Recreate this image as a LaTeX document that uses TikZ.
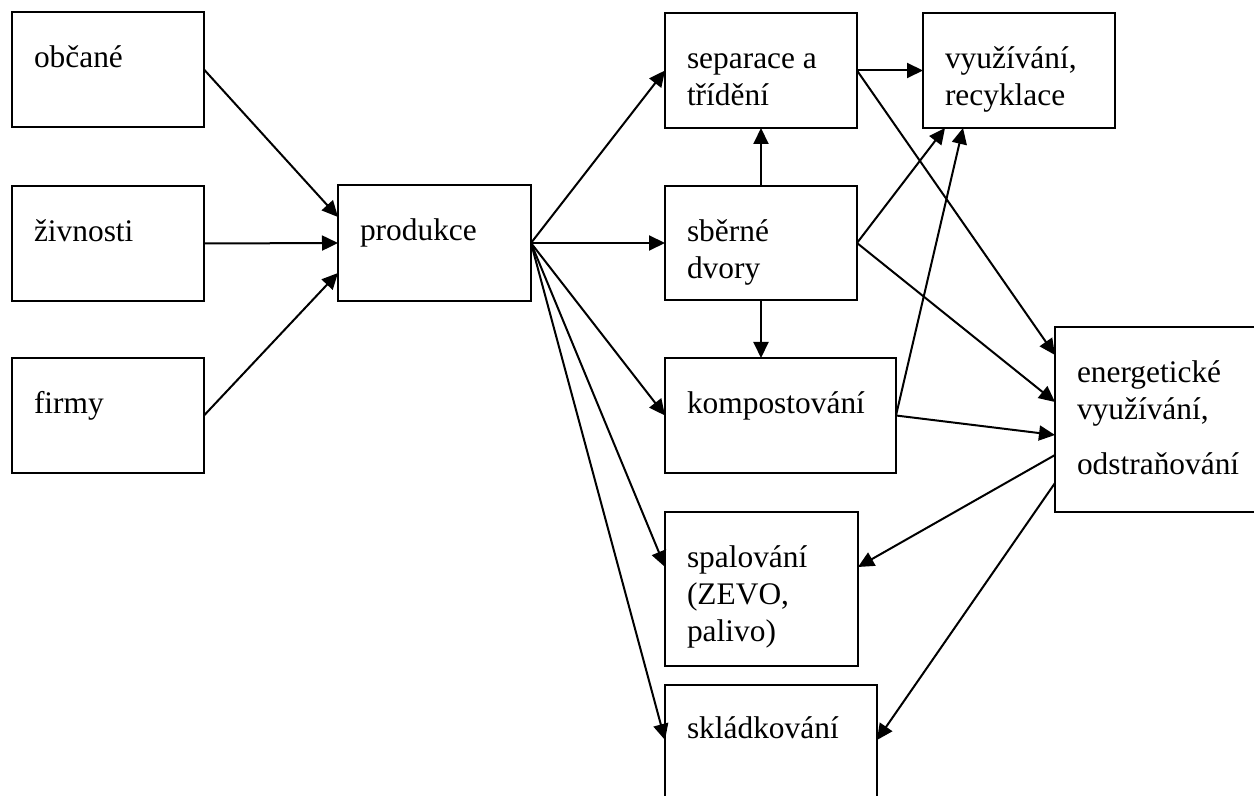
\documentclass[tikz,border=0pt]{standalone}
\usepackage{fontspec}
\setmainfont{Liberation Serif}
\usetikzlibrary{arrows.meta,positioning}

% text block whose baseline is the first line
\newcommand{\boxlines}[1]{\parbox[t]{110pt}{\raggedright #1}}

\begin{document}
\begin{tikzpicture}[
    x = 0.5pt, y = -0.5pt, % one unit = one pixel of the scan
    > = {Triangle[length=8pt,width=7.5pt]}, % arrow head style
    line width = 1pt,
    box/.style = {draw = black, anchor = north west, inner sep = 0pt, outer sep = 0pt},
    txt/.style = {anchor = base west, inner sep = 0pt,
                  font = \fontsize{15.7}{18.4}\selectfont}
    ]
    \clip (0,0) rectangle (1254,796);

    % sources
    \node[box, minimum width=96pt, minimum height=57.5pt] (obc) at (12,12) {};
    \node[box, minimum width=96pt, minimum height=57.5pt] (ziv) at (12,186) {};
    \node[box, minimum width=96pt, minimum height=57.5pt] (firm) at (12,358) {};
    \node[box, minimum width=96.5pt, minimum height=58pt] (prod) at (338,185) {};

    % treatment
    \node[box, minimum width=96pt, minimum height=57.5pt] (sep) at (665,13) {};
    \node[box, minimum width=96pt, minimum height=57.5pt] (vyu) at (923,13) {};
    \node[box, minimum width=96pt, minimum height=57pt] (sber) at (665,186) {};
    \node[box, minimum width=115.5pt, minimum height=57.5pt] (komp) at (665,358) {};
    \node[box, minimum width=110pt, minimum height=92.5pt] (ener) at (1055,327) {};
    \node[box, minimum width=96.5pt, minimum height=77pt] (spal) at (665,512) {};
    \node[box, minimum width=106pt, minimum height=75pt] (skl) at (665,685) {};

    % texts
    \node[txt] at ([shift={(21,56)}]obc.north west) {občané};
    \node[txt] at ([shift={(21,56)}]ziv.north west) {živnosti};
    \node[txt] at ([shift={(21,56)}]firm.north west) {firmy};
    \node[txt] at ([shift={(21,56)}]prod.north west) {produkce};
    \node[txt] at ([shift={(21,56)}]sep.north west) {\boxlines{separace a\\třídění}};
    \node[txt] at ([shift={(21,56)}]vyu.north west) {\boxlines{využívání,\\recyklace}};
    \node[txt] at ([shift={(21,56)}]sber.north west) {\boxlines{sběrné\\dvory}};
    \node[txt] at ([shift={(21,56)}]komp.north west) {kompostování};
    \node[txt] at ([shift={(21,56)}]ener.north west) {\boxlines{energetické\\využívání,\\[9.1pt]odstraňování}};
    \node[txt] at ([shift={(21,56)}]spal.north west) {\boxlines{spalování\\(ZEVO,\\palivo)}};
    \node[txt] at ([shift={(21,54)}]skl.north west) {skládkování};

    % flows
    \draw[->] (obc.east) -- ([yshift=13pt]prod.west);
    \draw[->] (ziv.east) -- (prod.west);
    \draw[->] (firm.east) -- ([yshift=-15pt]prod.west);
    \draw[->] (prod.east) -- (sep.west);
    \draw[->] (prod.east) -- (sber.west);
    \draw[->] (prod.east) -- (komp.west);
    \draw[->] (prod.east) -- ([yshift=11pt]spal.west);
    \draw[->] (prod.east) -- ([yshift=-27.5pt]skl.north west);
    \draw[->] (sep.east) -- (vyu.west);
    \draw[->] (sep.east) -- ([yshift=-14pt]ener.north west);
    \draw[->] (sber.north) -- (sep.south);
    \draw[->] (sber.south) -- (sber.south |- komp.north);
    \draw[->] (sber.east) -- ([xshift=11pt]vyu.south west);
    \draw[->] (sber.east) -- ([yshift=-37.5pt]ener.north west);
    \draw[->] (komp.east) -- ([xshift=20pt]vyu.south west);
    \draw[->] (komp.east) -- ([yshift=-54pt]ener.north west);
    \draw[->] ([yshift=-64pt]ener.north west) -- ([yshift=11pt]spal.east);
    \draw[->] ([yshift=-78pt]ener.north west) -- ([yshift=-27.5pt]skl.north east);
\end{tikzpicture}
\end{document}
